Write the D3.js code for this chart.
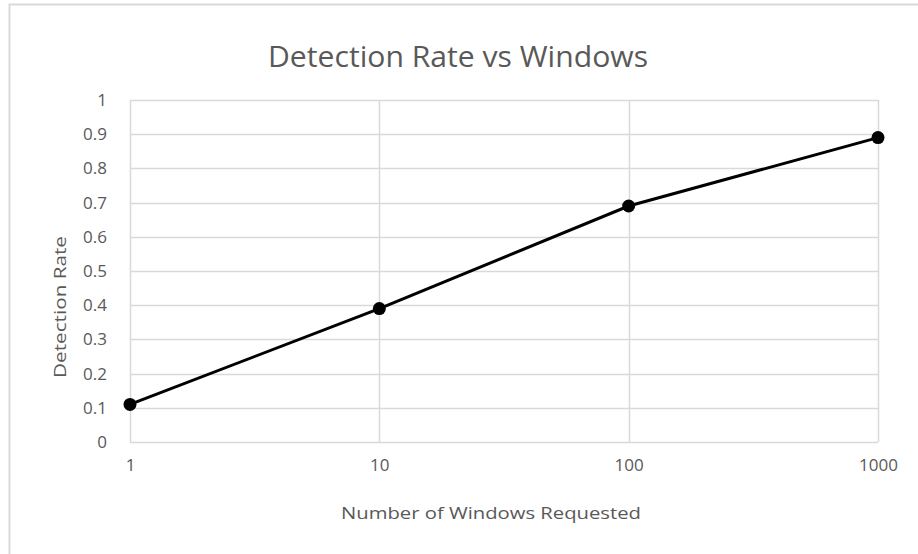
<!DOCTYPE html>
<html>
<head>
<meta charset="utf-8">
<script src="https://cdn.jsdelivr.net/npm/d3@7"></script>
<style>
  body { margin: 0; background: #fff; }
  text { font-family: "Open Sans", "Noto Sans", sans-serif; fill: #595959; }
</style>
</head>
<body>
<div id="chart"></div>
<script>
// data
var windows = [1, 10, 100, 1000];
var detectionRate = [0.11, 0.39, 0.69, 0.89];
var yTicks = [0, 0.1, 0.2, 0.3, 0.4, 0.5, 0.6, 0.7, 0.8, 0.9, 1];
var xTicks = [1, 10, 100, 1000];

var W = 918, H = 554;
var margin = {top: 100, right: 40, bottom: 112, left: 130},
    width = W - margin.left - margin.right,
    height = H - margin.top - margin.bottom;

var svg = d3.select("#chart").append("svg")
    .attr("width", W)
    .attr("height", H);

// outer chart frame (only top and left edges visible)
svg.append("path")
    .attr("d", "M9.5,554 V4.5 H918")
    .attr("fill", "none")
    .attr("stroke", "#d9d9d9")
    .attr("stroke-width", 2);

var g = svg.append("g")
    .attr("transform", "translate(" + margin.left + "," + margin.top + ")");

var x = d3.scaleLog().domain([1, 1000]).range([0, width]);
var y = d3.scaleLinear().domain([0, 1]).range([height, 0]);

// gridlines
g.append("g").selectAll("line.h")
    .data(yTicks)
    .enter().append("line")
    .attr("x1", 0).attr("x2", width)
    .attr("y1", function(d) { return Math.round(y(d)) + 0.5; })
    .attr("y2", function(d) { return Math.round(y(d)) + 0.5; })
    .attr("stroke", "#d9d9d9")
    .attr("stroke-width", 1.5);

g.append("g").selectAll("line.v")
    .data(xTicks)
    .enter().append("line")
    .attr("y1", 0).attr("y2", height)
    .attr("x1", function(d) { return Math.round(x(d)) + 0.5; })
    .attr("x2", function(d) { return Math.round(x(d)) + 0.5; })
    .attr("stroke", "#d9d9d9")
    .attr("stroke-width", 1.5);

// axes (labels only, lines come from the grid)
var yAxis = d3.axisLeft(y).tickValues(yTicks).tickSize(0).tickPadding(23)
    .tickFormat(function(d) { return d === 0 ? "0" : d === 1 ? "1" : d3.format(".1f")(d); });
var xAxis = d3.axisBottom(x).tickValues(xTicks).tickSize(0).tickPadding(17)
    .tickFormat(d3.format("d"));

g.append("g").attr("class", "y axis").call(yAxis)
    .call(function(s) { s.select(".domain").remove(); })
    .selectAll("text").style("font-size", "17px").style("fill", "#595959");

g.append("g").attr("class", "x axis")
    .attr("transform", "translate(0," + height + ")")
    .call(xAxis)
    .call(function(s) { s.select(".domain").remove(); })
    .selectAll("text").style("font-size", "17px").style("fill", "#595959");

// series
var pts = windows.map(function(w, i) { return {w: w, r: detectionRate[i]}; });

var line = d3.line()
    .x(function(d) { return x(d.w); })
    .y(function(d) { return y(d.r); });

g.append("path")
    .datum(pts)
    .attr("d", line)
    .attr("fill", "none")
    .attr("stroke", "#000")
    .attr("stroke-width", 3);

g.selectAll("circle.pt")
    .data(pts)
    .enter().append("circle")
    .attr("cx", function(d) { return x(d.w); })
    .attr("cy", function(d) { return y(d.r); })
    .attr("r", 6.5)
    .attr("fill", "#000");

// titles
svg.append("text")
    .attr("x", 458).attr("y", 67)
    .attr("text-anchor", "middle")
    .attr("textLength", 380)
    .attr("lengthAdjust", "spacingAndGlyphs")
    .style("font-size", "29px")
    .text("Detection Rate vs Windows");

svg.append("text")
    .attr("x", 491).attr("y", 519)
    .attr("text-anchor", "middle")
    .attr("textLength", 300)
    .attr("lengthAdjust", "spacingAndGlyphs")
    .style("font-size", "17px")
    .text("Number  of Windows Requested");

svg.append("text")
    .attr("transform", "translate(66,307) rotate(-90)")
    .attr("text-anchor", "middle")
    .attr("textLength", 142)
    .attr("lengthAdjust", "spacingAndGlyphs")
    .style("font-size", "17px")
    .text("Detection Rate");
</script>
</body>
</html>
